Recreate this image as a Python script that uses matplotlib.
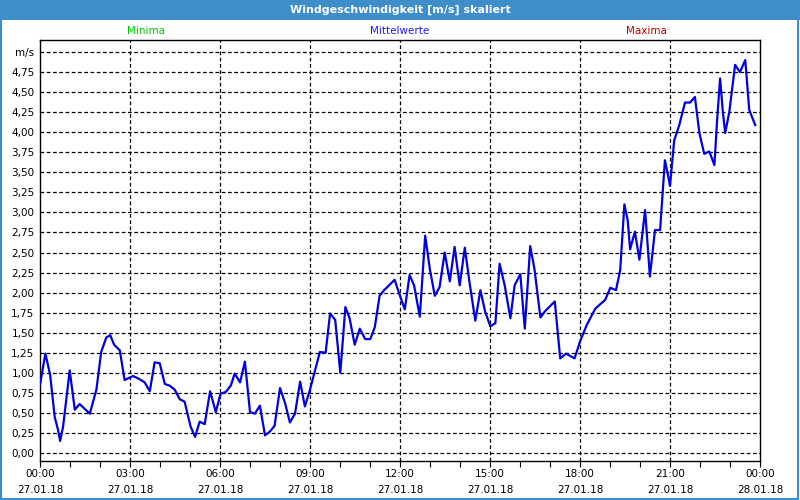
import matplotlib.pyplot as plt
from matplotlib.patches import Rectangle

# Stunden seit 27.01.18 00:00 und Windgeschwindigkeit in m/s
hours = [0.0, 0.18, 0.34, 0.49, 0.6, 0.67, 0.77, 0.99, 1.16, 1.32, 1.66, 1.88,
         2.04, 2.21, 2.34, 2.47, 2.66, 2.82, 3.1, 3.32, 3.49, 3.66, 3.82, 3.99,
         4.16, 4.32, 4.49, 4.66, 4.82, 4.93, 5.02, 5.17, 5.32, 5.49, 5.67, 5.86,
         6.02, 6.19, 6.36, 6.49, 6.67, 6.83, 7.0, 7.16, 7.33, 7.5, 7.67, 7.82,
         8.0, 8.17, 8.33, 8.5, 8.67, 8.83, 9.0, 9.17, 9.33, 9.52, 9.67, 9.84,
         10.01, 10.18, 10.32, 10.49, 10.66, 10.84, 11.01, 11.16, 11.32, 11.47,
         11.63, 11.82, 11.99, 12.16, 12.32, 12.47, 12.66, 12.84, 13.0, 13.16,
         13.32, 13.49, 13.66, 13.82, 13.99, 14.16, 14.32, 14.51, 14.68, 14.84,
         15.01, 15.18, 15.32, 15.49, 15.68, 15.82, 16.01, 16.16, 16.34, 16.48,
         16.68, 16.84, 17.16, 17.34, 17.54, 17.67, 17.82, 18.01, 18.23, 18.51,
         18.84, 19.01, 19.2, 19.34, 19.48, 19.59, 19.67, 19.83, 19.98, 20.17,
         20.33, 20.5, 20.67, 20.76, 20.83, 20.92, 21.0, 21.14, 21.31, 21.5,
         21.67, 21.83, 21.98, 22.14, 22.31, 22.48, 22.57, 22.67, 22.76, 22.84,
         22.98, 23.17, 23.33, 23.51, 23.64, 23.84]
speed = [0.85, 1.24, 0.97, 0.45, 0.29, 0.15, 0.33, 1.03, 0.54, 0.61, 0.49, 0.79,
         1.26, 1.44, 1.47, 1.35, 1.28, 0.91, 0.96, 0.92, 0.88, 0.77, 1.13, 1.12,
         0.86, 0.84, 0.79, 0.67, 0.64, 0.47, 0.33, 0.20, 0.39, 0.36, 0.77, 0.51,
         0.74, 0.76, 0.84, 0.99, 0.88, 1.14, 0.51, 0.49, 0.59, 0.22, 0.27, 0.34,
         0.81, 0.62, 0.38, 0.49, 0.89, 0.58, 0.79, 1.03, 1.26, 1.25, 1.74, 1.66,
         1.00, 1.82, 1.68, 1.35, 1.55, 1.42, 1.42, 1.57, 1.96, 2.03,
         2.09, 2.16, 1.97, 1.79, 2.22, 2.09, 1.70, 2.71, 2.28, 1.96,
         2.07, 2.50, 2.14, 2.57, 2.09, 2.56, 2.12, 1.65, 2.03, 1.76,
         1.58, 1.62, 2.36, 2.09, 1.68, 2.09, 2.23, 1.55, 2.58, 2.30,
         1.69, 1.77, 1.89, 1.18, 1.24, 1.21, 1.18, 1.40, 1.60, 1.80,
         1.91, 2.06, 2.03, 2.28, 3.10, 2.90, 2.54, 2.76, 2.41, 3.03,
         2.20, 2.78, 2.78, 3.28, 3.65, 3.49, 3.33, 3.90, 4.09, 4.37,
         4.37, 4.44, 3.99, 3.73, 3.76, 3.59, 4.15, 4.67, 4.26, 3.99,
         4.26, 4.84, 4.75, 4.90, 4.28, 4.09]

x_ticks = [0, 3, 6, 9, 12, 15, 18, 21, 24]
x_labels = ["00:00\n27.01.18", "03:00\n27.01.18", "06:00\n27.01.18",
            "09:00\n27.01.18", "12:00\n27.01.18", "15:00\n27.01.18",
            "18:00\n27.01.18", "21:00\n27.01.18", "00:00\n28.01.18"]
y_ticks = [i * 0.25 for i in range(21)]
y_labels = [f"{v:.2f}".replace(".", ",") for v in y_ticks[:-1]] + ["m/s"]

blue_bar = '#3d8ec9'
fig = plt.figure(figsize=(8, 5), dpi=100)
fig.patch.set_facecolor('white')

# Titelleiste und Rahmen
fig.patches.append(Rectangle((0, 0.96), 1, 0.04, transform=fig.transFigure,
                             facecolor=blue_bar, edgecolor='none', zorder=0))
fig.patches.append(Rectangle((0.001, 0.002), 0.997, 0.996, transform=fig.transFigure,
                             facecolor='none', edgecolor=blue_bar, linewidth=1.5, zorder=0))
fig.text(0.5, 0.98, "Windgeschwindigkeit [m/s] skaliert", color='white',
         fontsize=8, fontweight='bold', ha='center', va='center')
fig.text(146 / 800, 1 - 31 / 500, "Minima", color='#00c800', fontsize=7.5, ha='center', va='center')
fig.text(400 / 800, 1 - 31 / 500, "Mittelwerte", color='#1a1aff', fontsize=7.5, ha='center', va='center')
fig.text(646 / 800, 1 - 31 / 500, "Maxima", color='#c00000', fontsize=7.5, ha='center', va='center')

ax = fig.add_axes([40 / 800, 1 - 461 / 500, 720 / 800, 421 / 500])
ax.plot(hours, speed, color='#0000e0', linewidth=1.6, zorder=3)

ax.set_xlim(0, 24)
ax.set_ylim(-0.1, 5.15)
ax.set_xticks(x_ticks)
ax.set_xticklabels(x_labels, fontsize=7.5, linespacing=1.75)
ax.set_xticks(range(25), minor=True)
ax.set_yticks(y_ticks)
ax.set_yticklabels(y_labels, fontsize=7.5)
ax.tick_params(axis='x', which='both', direction='out', length=4, width=0.8, pad=1.5)
ax.tick_params(axis='y', length=0, pad=4)

for v in y_ticks:
    ax.axhline(v, color='black', linewidth=0.9, linestyle=(0, (3, 2)), zorder=1)
for h in x_ticks[1:-1]:
    ax.axvline(h, color='black', linewidth=0.9, linestyle=(0, (3, 2)), zorder=1)

for s in ax.spines.values():
    s.set_linewidth(1)

plt.savefig('out.png', dpi=100)
